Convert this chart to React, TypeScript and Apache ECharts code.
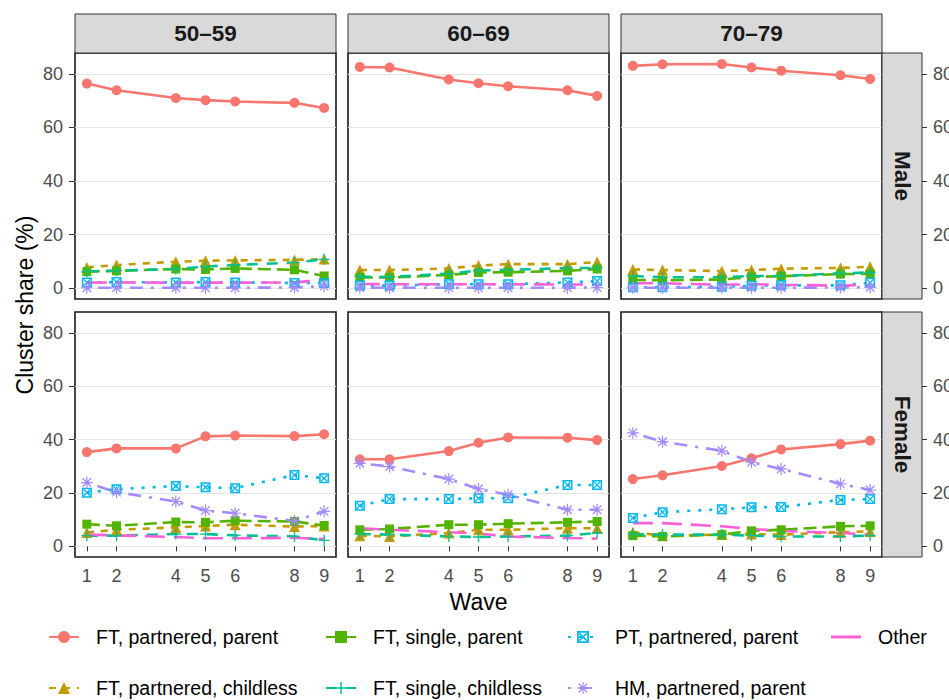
import React, { useEffect, useRef } from "react";
import * as echarts from "echarts";

// ---------- data ----------
const waves = [1, 2, 4, 5, 6, 8, 9];
const yTicks = [0, 20, 40, 60, 80];
const ageGroups = ["50–59", "60–69", "70–79"];
const sexes = ["Male", "Female"];
const clusterNames = [
  "FT, partnered, parent",
  "FT, partnered, childless",
  "FT, single, parent",
  "FT, single, childless",
  "PT, partnered, parent",
  "HM, partnered, parent",
  "Other",
];

// rows: Male 50–59, Male 60–69, Male 70–79, Female 50–59, Female 60–69, Female 70–79
const ftPartneredParent = [
  [76.4, 73.9, 71.0, 70.2, 69.7, 69.2, 67.3],
  [82.6, 82.4, 77.9, 76.5, 75.4, 73.9, 71.8],
  [83.0, 83.6, 83.7, 82.4, 81.2, 79.5, 78.1],
  [35.3, 36.7, 36.7, 41.2, 41.5, 41.3, 42.0],
  [32.6, 32.6, 35.7, 38.8, 40.8, 40.7, 39.8],
  [25.2, 26.6, 30.1, 33.0, 36.3, 38.3, 39.6],
];
const ftPartneredChildless = [
  [7.8, 8.7, 9.9, 10.3, 10.4, 10.6, 10.9],
  [6.8, 6.8, 7.4, 8.5, 9.0, 9.0, 9.8],
  [7.0, 6.8, 6.4, 6.8, 7.3, 7.6, 8.0],
  [5.2, 6.2, 7.1, 7.6, 8.1, 7.4, 7.6],
  [4.0, 3.7, 5.0, 6.2, 6.2, 6.8, 6.8],
  [5.3, 4.0, 4.4, 4.6, 4.4, 5.3, 5.6],
];
const ftSingleParent = [
  [6.2, 6.5, 7.2, 7.0, 7.4, 6.9, 4.6],
  [4.0, 4.0, 5.0, 5.9, 6.0, 6.5, 7.2],
  [3.1, 3.0, 3.3, 4.2, 4.5, 5.3, 5.4],
  [8.3, 7.7, 9.1, 9.0, 9.6, 9.3, 7.8],
  [6.2, 6.5, 8.1, 8.1, 8.5, 9.0, 9.3],
  [4.0, 3.7, 4.4, 5.8, 6.2, 7.5, 7.7],
];
const ftSingleChildless = [
  [6.2, 6.6, 7.2, 8.1, 8.7, 9.6, 10.8],
  [4.4, 4.2, 5.5, 6.6, 6.9, 7.5, 7.6],
  [4.6, 4.1, 4.1, 4.6, 4.6, 5.6, 5.9],
  [4.0, 4.0, 4.6, 4.6, 4.1, 3.7, 2.2],
  [4.6, 4.4, 3.7, 3.5, 3.7, 4.0, 5.0],
  [4.6, 4.4, 4.4, 4.0, 3.7, 3.7, 4.0],
];
const ptPartneredParent = [
  [2.2, 2.3, 2.2, 2.3, 2.2, 2.0, 2.0],
  [1.0, 1.0, 1.5, 1.5, 1.5, 2.2, 2.7],
  [0.4, 0.4, 0.6, 0.9, 1.1, 1.1, 2.1],
  [20.1, 21.4, 22.6, 22.1, 21.8, 26.7, 25.5],
  [15.2, 17.7, 17.7, 18.0, 18.0, 23.0, 23.0],
  [10.6, 12.8, 13.9, 14.6, 14.7, 17.4, 17.7],
];
const hmPartneredParent = [
  [0.2, 0.2, 0.2, 0.2, 0.2, 0.3, 0.8],
  [0.2, 0.2, 0.2, 0.2, 0.2, 0.2, 0.3],
  [0.2, 0.2, 0.2, 0.2, 0.2, 0.3, 0.4],
  [23.9, 20.3, 16.8, 13.4, 12.4, 9.5, 13.1],
  [31.1, 29.9, 25.2, 21.5, 19.3, 13.7, 13.7],
  [42.5, 39.2, 35.8, 31.5, 29.0, 23.4, 21.1],
];
const otherCluster = [
  [2.1, 2.2, 2.1, 2.1, 2.1, 2.2, 3.1],
  [1.6, 1.5, 1.5, 1.5, 1.5, 1.4, 1.4],
  [1.9, 1.9, 1.3, 1.5, 1.3, 1.0, 1.2],
  [4.4, 4.1, 3.5, 3.0, 3.0, 3.2, 2.7],
  [6.8, 6.2, 5.3, 4.8, 3.7, 3.1, 2.9],
  [8.7, 8.7, 7.5, 6.5, 5.8, 5.0, 4.4],
];
const clusterValues = [
  ftPartneredParent,
  ftPartneredChildless,
  ftSingleParent,
  ftSingleChildless,
  ptPartneredParent,
  hmPartneredParent,
  otherCluster,
];

// ---------- styles ----------
const FONT = "'Liberation Sans', Arial, Helvetica, sans-serif";
const colors = ["#F8766D", "#C49A00", "#53B400", "#00C094", "#00B6EB", "#A58AFF", "#FB61D7"];
const PLUS = "path://M8.8,0L11.2,0L11.2,20L8.8,20Z M0,8.8L20,8.8L20,11.2L0,11.2Z";
const SQ_CROSS =
  "path://M0,0L20,0L20,20L0,20Z M3,3L3,17L17,17L17,3Z M3,4.8L4.8,3L17,15.2L15.2,17Z M15.2,3L17,4.8L4.8,17L3,15.2Z";
const ASTER =
  "path://M9,0L11,0L11,20L9,20Z M0,9L20,9L20,11L0,11Z M3.71,2.15L17.85,16.29L16.29,17.85L2.15,3.71Z M16.29,2.15L17.85,3.71L3.71,17.85L2.15,16.29Z";
const symbols = ["circle", "triangle", "rect", PLUS, SQ_CROSS, ASTER, "none"];
const symbolSizes = [10, 11, 9, 11, 10, 12, 0];
const dashes: any[] = ["solid", [7, 7], [13, 6], [11, 9], [3, 8], [3, 8, 13, 8], [20, 9]];

const panelLeft = [75, 348, 621];
const panelTop = [53, 312];
const panelW = 261;
const panelH = [246, 245];
const Y_MIN = -4;
const Y_MAX = 87.8;

const legendKeyLeft = [48, 325, 567, 831];
const legendRowCenter = [637, 688];

export default function App() {
  const ref = useRef<HTMLDivElement>(null);

  useEffect(() => {
    if (!ref.current) return;
    const chart = echarts.init(ref.current, undefined, { renderer: "svg" });

    const grids: any[] = [];
    const xAxes: any[] = [];
    const yAxes: any[] = [];
    const series: any[] = [];

    for (let p = 0; p < 6; p++) {
      const row = Math.floor(p / 3);
      const col = p % 3;
      grids.push({
        left: panelLeft[col],
        top: panelTop[row],
        width: panelW,
        height: panelH[row],
        show: true,
        backgroundColor: "#ffffff",
        borderColor: "#1a1a1a",
        borderWidth: 1.6,
        containLabel: false,
        outerBoundsMode: "none",
      });
      xAxes.push({
        type: "value",
        gridIndex: p,
        min: 0.6,
        max: 9.4,
        axisLine: { show: false },
        splitLine: { show: false },
        axisTick: {
          show: row === 1,
          customValues: waves,
          length: 5,
          lineStyle: { color: "#333333", width: 1 },
        },
        axisLabel: {
          show: row === 1,
          customValues: waves,
          margin: 10,
          fontSize: 18,
          color: "#4d4d4d",
          fontFamily: FONT,
        },
      });
      yAxes.push({
        type: "value",
        gridIndex: p,
        min: Y_MIN,
        max: Y_MAX,
        axisLine: { show: false },
        splitLine: { show: true, lineStyle: { color: "#e5e5e5", width: 1 } },
        axisTick: {
          show: col === 0,
          customValues: yTicks,
          length: 6,
          lineStyle: { color: "#333333", width: 1 },
        },
        axisLabel: {
          show: col === 0,
          customValues: yTicks,
          margin: 12,
          fontSize: 18,
          color: "#4d4d4d",
          fontFamily: FONT,
        },
      });
      for (let c = 0; c < clusterNames.length; c++) {
        const vals = clusterValues[c][p];
        series.push({
          type: "line",
          name: clusterNames[c],
          xAxisIndex: p,
          yAxisIndex: p,
          data: waves.map((w, i) => [w, vals[i]]),
          symbol: symbols[c],
          symbolSize: symbolSizes[c],
          showSymbol: symbols[c] !== "none",
          lineStyle: { color: colors[c], width: 2.6, type: dashes[c] },
          itemStyle: { color: colors[c], borderWidth: 0 },
          emphasis: { disabled: true },
          silent: true,
          z: 2,
        });
      }
    }
    // right-side axes (outside the row strips)
    for (let row = 0; row < 2; row++) {
      yAxes.push({
        type: "value",
        gridIndex: row * 3 + 2,
        position: "right",
        offset: 40,
        min: Y_MIN,
        max: Y_MAX,
        axisLine: { show: false },
        splitLine: { show: false },
        axisTick: {
          show: true,
          customValues: yTicks,
          length: 5,
          lineStyle: { color: "#333333", width: 1 },
        },
        axisLabel: {
          show: true,
          customValues: yTicks,
          margin: 11,
          fontSize: 18,
          color: "#4d4d4d",
          fontFamily: FONT,
        },
      });
    }

    const legends: any[] = clusterNames.map((name, i) => {
      const col = Math.floor(i / 2);
      const row = i % 2;
      const isOther = symbols[i] === "none";
      return {
        show: true,
        left: legendKeyLeft[col],
        top: legendRowCenter[row] - 11,
        padding: 0,
        itemWidth: 30,
        itemHeight: isOther ? 3 : 15,
        selectedMode: false,
        data: [isOther ? { name, icon: "rect" } : { name }],
        textStyle: {
          fontSize: 19.5,
          lineHeight: 22,
          color: "#000000",
          fontFamily: FONT,
          padding: [0, 0, 0, 12],
        },
      };
    });

    const graphic: any[] = [];
    for (let col = 0; col < 3; col++) {
      graphic.push({
        type: "rect",
        shape: { x: panelLeft[col], y: 14, width: panelW, height: 39 },
        style: { fill: "#d9d9d9", stroke: "#333333", lineWidth: 1 },
        z: 10,
      });
      graphic.push({
        type: "text",
        x: panelLeft[col] + panelW / 2,
        y: 33.5,
        style: {
          text: ageGroups[col],
          fill: "#1a1a1a",
          font: `bold 22.5px ${FONT}`,
          align: "center",
          verticalAlign: "middle",
        },
        z: 11,
      });
    }
    for (let row = 0; row < 2; row++) {
      graphic.push({
        type: "rect",
        shape: { x: 882, y: panelTop[row], width: 40, height: panelH[row] },
        style: { fill: "#d9d9d9", stroke: "#333333", lineWidth: 1 },
        z: 10,
      });
      graphic.push({
        type: "text",
        x: 902,
        y: panelTop[row] + panelH[row] / 2,
        rotation: -Math.PI / 2,
        style: {
          text: sexes[row],
          fill: "#1a1a1a",
          font: `bold 22.5px ${FONT}`,
          align: "center",
          verticalAlign: "middle",
        },
        z: 11,
      });
    }
    graphic.push({
      type: "text",
      x: 25,
      y: 305,
      rotation: Math.PI / 2,
      style: {
        text: "Cluster share (%)",
        fill: "#000000",
        font: `23px ${FONT}`,
        align: "center",
        verticalAlign: "middle",
      },
    });
    graphic.push({
      type: "text",
      x: 478.5,
      y: 602,
      style: {
        text: "Wave",
        fill: "#000000",
        font: `23px ${FONT}`,
        align: "center",
        verticalAlign: "middle",
      },
    });

    chart.setOption({
      animation: false,
      backgroundColor: "#ffffff",
      textStyle: { fontFamily: FONT },
      grid: grids,
      xAxis: xAxes,
      yAxis: yAxes,
      legend: legends,
      series,
      graphic,
    });

    return () => chart.dispose();
  }, []);

  return (
    <div
      ref={ref}
      style={{ position: "absolute", left: 0, top: 0, width: 949, height: 700 }}
    />
  );
}
